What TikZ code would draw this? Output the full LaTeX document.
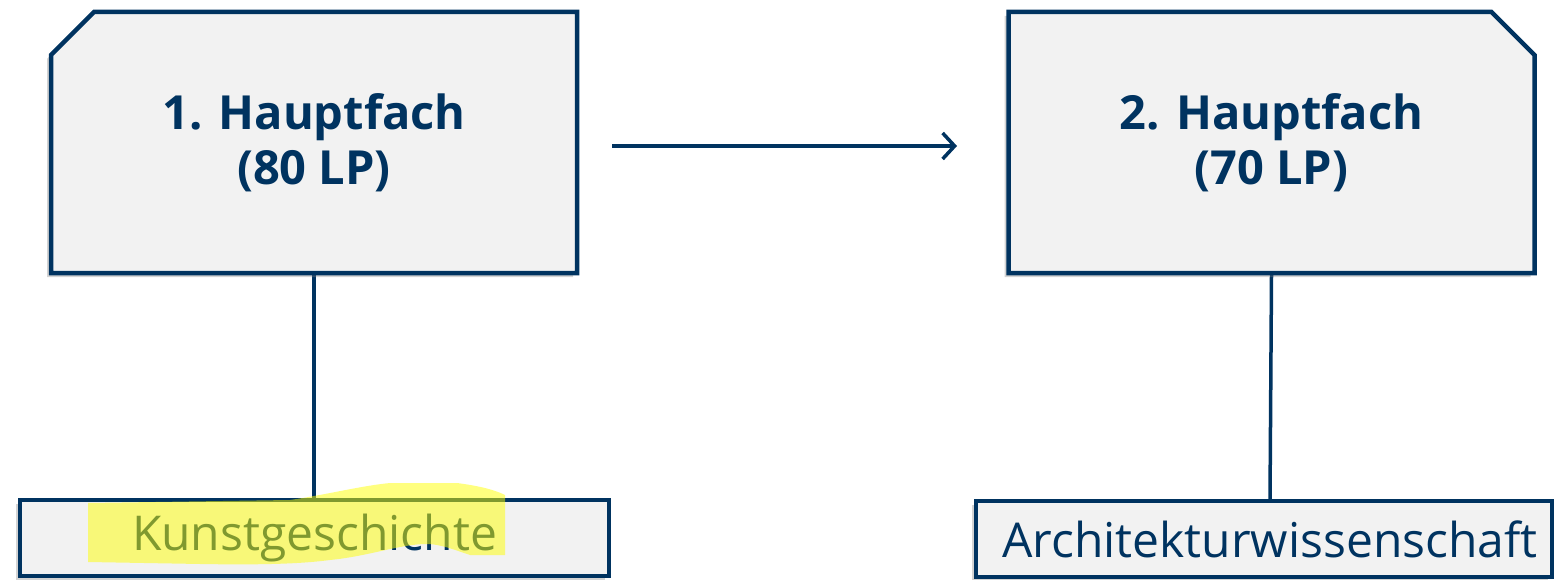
\documentclass[tikz,border=0pt]{standalone}
\usepackage{fontspec}
\setmainfont{Open Sans}
\usetikzlibrary{shapes.misc,shadows,arrows.meta}
\definecolor{dblue}{RGB}{0,51,96}
\definecolor{boxfill}{RGB}{242,242,242}
\definecolor{hl}{RGB}{255,255,0}
\tikzset{
  mainbox/.style={chamfered rectangle, chamfered rectangle xsep=21.5pt, chamfered rectangle ysep=21.5pt,
    draw=dblue, line width=4.5pt, fill=boxfill, minimum width=526pt, minimum height=261pt,
    inner sep=0pt, align=center, text=dblue, font=\fontsize{47}{55}\selectfont\bfseries,
    drop shadow={shadow xshift=-4pt, shadow yshift=-4pt, opacity=0.35}},
  subbox/.style={rectangle, draw=dblue, line width=4.5pt, fill=boxfill, minimum height=76pt,
    inner sep=0pt, text=dblue, font=\fontsize{48}{55}\selectfont,
    drop shadow={shadow xshift=-4pt, shadow yshift=-4pt, opacity=0.35}},
  conn/.style={draw=dblue, line width=3.5pt},
}
\begin{document}
\begin{tikzpicture}[x=1pt,y=-1pt]
\useasboundingbox (0,0) rectangle (1558,580);
\draw[conn] (314,275) -- (314,498);
\draw[conn] (1271.5,275) -- (1270,500);
\node[mainbox, chamfered rectangle corners=north west] (b1) at (314,142.5) {1. Hauptfach\\(80 LP)};
\node[mainbox, chamfered rectangle corners=north east] (b2) at (1271.5,142.5) {2. Hauptfach\\(70 LP)};
\node[subbox, minimum width=589pt] (b3) at (314.5,538) {Kunstgeschichte};
\node[subbox, minimum width=576pt] (b4) at (1264,539) {\hspace*{12pt}Architekturwissenschaft};
\coordinate (a1) at (612,146);
\coordinate (a2) at (957,146);
\draw[conn, -{Straight Barb[length=12pt,width=26pt,line width=3.5pt]}] (a1) -- (a2);
\fill[hl, opacity=0.5] (88,503) -- (290,500) .. controls (330,494) and (360,486) .. (390,483)
  -- (457,483) .. controls (480,486) and (495,490) .. (505,495) -- (505,555) -- (470,555)
  .. controls (455,550) and (440,544) .. (427,544) .. controls (400,544) and (370,556) .. (330,560)
  .. controls (300,564) and (260,565) .. (200,564) -- (88,562) -- cycle;
\end{tikzpicture}
\end{document}
